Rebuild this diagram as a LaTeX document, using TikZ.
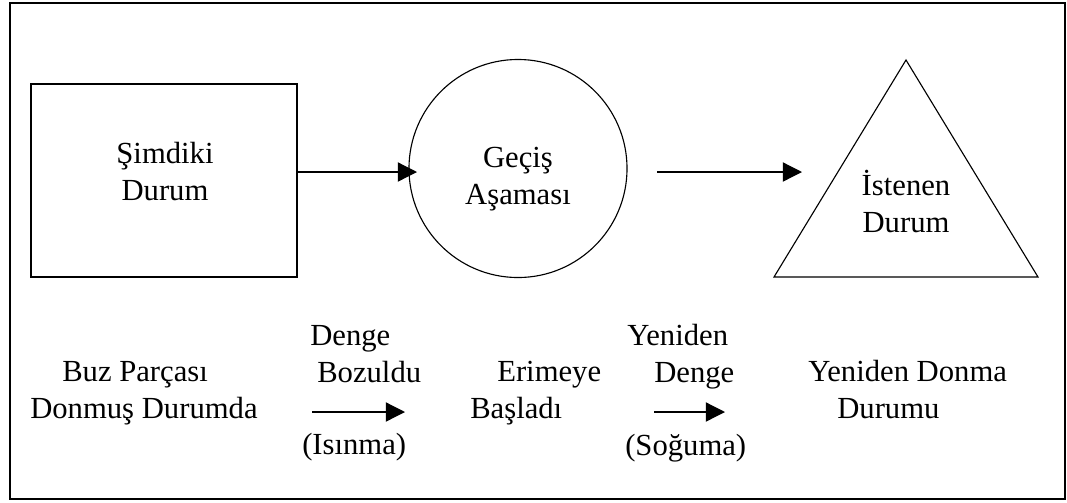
\documentclass[tikz,border=0pt]{standalone}
\usepackage{fontspec}
\setmainfont{Liberation Serif}
\usetikzlibrary{arrows.meta}

\begin{document}
\begin{tikzpicture}[x=0.025cm, y=-0.025cm,
    every node/.style={font=\fontsize{21.8}{26.3}\selectfont, inner sep=0pt},
    arr/.style={-{Triangle[length=0.48cm,width=0.48cm]}, line width=0.9pt},
    lbl/.style={anchor=base, align=center},
    lbll/.style={anchor=base west, align=left}]

    % page
    \useasboundingbox (0,0) rectangle (1067,502);
    \draw[line width=0.9pt] (10,3) rectangle (1065,499);

    % shapes
    \node[draw, line width=1pt, minimum width=6.65cm, minimum height=4.825cm] (simdiki) at (164,180.5) {};
    \node[draw, circle, line width=0.8pt, minimum size=5.45cm] (gecis) at (518,168.5) {};
    \coordinate (tritop) at (906,60);
    \coordinate (trileft) at (774,277);
    \coordinate (triright) at (1038,277);
    \draw[line width=0.8pt] (tritop) -- (trileft) -- (triright) -- cycle;

    % texts in the shapes (base = last line)
    \node[lbl] (simdikitxt) at (165,200) {Şimdiki\\Durum};
    \node[lbl] (gecistxt) at (518,204) {Geçiş\\Aşaması};
    \node[lbl] (istenentxt) at (906,232) {İstenen\\Durum};

    % arrows between the shapes
    \coordinate (a1) at (417,172);
    \draw[arr] (simdiki.east |- a1) -- (a1);
    \coordinate (a2s) at (657,172);
    \coordinate (a2e) at (802,172);
    \draw[arr] (a2s) -- (a2e);

    % bottom row
    \node[lbll] (buz) at (30,418) {\hspace*{0.8cm}Buz Parçası\\Donmuş Durumda};
    \node[lbll] (bozuldu) at (310,382) {Denge\\\hspace*{0.175cm}Bozuldu};
    \node[lbll] (isinma) at (302,454) {(Isınma)};
    \node[lbll] (erimeye) at (470,418) {\hspace*{0.675cm}Erimeye\\Başladı};
    \node[lbll] (denge) at (627,382) {Yeniden\\\hspace*{0.675cm}Denge};
    \node[lbll] (soguma) at (625,455) {(Soğuma)};
    \node[lbll] (donma) at (808,418) {Yeniden Donma\\\hspace*{0.725cm}Durumu};

    \coordinate (b1s) at (312,412);
    \coordinate (b1e) at (405,412);
    \draw[arr] (b1s) -- (b1e);
    \coordinate (b2s) at (654,412);
    \coordinate (b2e) at (725,412);
    \draw[arr] (b2s) -- (b2e);

\end{tikzpicture}
\end{document}
